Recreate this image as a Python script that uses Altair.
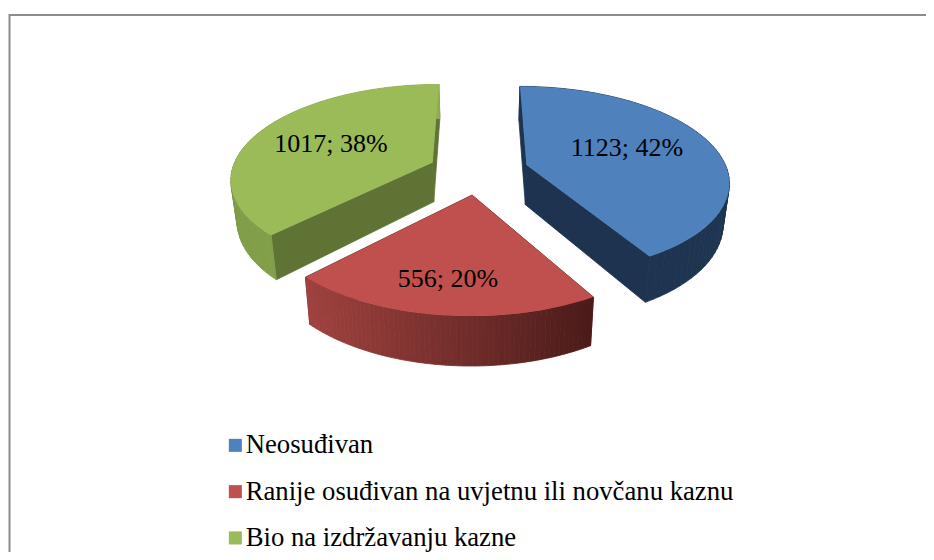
import math
import altair as alt
import pandas as pd

categories = ["Neosuđivan", "Ranije osuđivan na uvjetnu ili novčanu kaznu", "Bio na izdržavanju kazne"]
values = [1123, 556, 1017]
percent = [42, 20, 38]
top_colors = ["#4f81bd", "#c0504d", "#9bbb59"]
cut_colors = ["#1d334f", "#5a2320", "#5f7335"]
side_left = ["#1d334f", "#a0423f", "#7f9c47"]
side_right = ["#1e3551", "#4a1b19", "#8fae50"]
label_px = [(627, 156), (448, 287), (331, 152)]

XC, YC, R, S, K, EXP, DEPTH, SHRINK = 478.5, 171, 201, 93, 0.16, 0.25, 40, 0.975
OX, OY = 8, 8
SERIF = "Liberation Serif, Times New Roman, serif"


def project(u, v):
    w = 1 + K * v
    return XC + R * u / w, YC - S * v / w, w


def top_pt(a, e, bis, radial=1.0):
    u = radial * math.sin(a) + e * math.sin(bis)
    v = radial * math.cos(a) + e * math.cos(bis)
    return project(u, v)


def bottom(p):
    x, y, w = p
    return XC + (x - XC) * SHRINK, y + DEPTH / w


def poly(points, **props):
    ring = [[x - OX, y - OY] for x, y in points]
    ring.append(list(ring[0]))
    return {"type": "Feature", "geometry": {"type": "Polygon", "coordinates": [ring]}, "properties": props}


def mix(c1, c2, t):
    a = [int(c1[i:i + 2], 16) for i in (1, 3, 5)]
    b = [int(c2[i:i + 2], 16) for i in (1, 3, 5)]
    return "#%02x%02x%02x" % tuple(round(p + (q - p) * t) for p, q in zip(a, b))


total = sum(values)
tops, sides = [], []
start = 0.0
for i, val in enumerate(values):
    sweep = 2 * math.pi * val / total
    a0, a1 = start, start + sweep
    bis = (a0 + a1) / 2
    n = 60
    angles = [a0 + sweep * j / n for j in range(n + 1)]
    arc = [top_pt(a, EXP, bis) for a in angles]
    apex = top_pt(0, EXP, bis, 0.0)
    xy = lambda p: (p[0], p[1])
    for corner in (arc[0], arc[-1]):
        sides.append(poly([xy(apex), xy(corner), bottom(corner), bottom(apex)], fill=cut_colors[i]))
    lo = min(arc, key=lambda p: p[0])[0]
    hi = max(arc, key=lambda p: p[0])[0]
    for j in range(n):
        p, q = arc[j], arc[j + 1]
        t = ((p[0] + q[0]) / 2 - lo) / (hi - lo)
        sides.append(poly([xy(p), xy(q), bottom(q), bottom(p)], fill=mix(side_left[i], side_right[i], t)))
    tops.append(poly([xy(apex)] + [xy(p) for p in arc], cat=categories[i]))
    start = a1

proj = dict(type="identity", scale=1, translate=[0, 0])

frame_feats = [
    {"type": "Feature", "geometry": {"type": "LineString", "coordinates": [[9.5 - OX, 560], [9.5 - OX, 15 - OY], [934, 15 - OY]]}, "properties": {}}
]
frame = alt.Chart(alt.Data(values=frame_feats)).mark_geoshape(filled=False, stroke="#8c8c8c", strokeWidth=2).project(**proj)

side_layer = alt.Chart(alt.Data(values=sides)).mark_geoshape(strokeWidth=0.8).encode(
    fill=alt.Fill("properties.fill:N", scale=None),
    stroke=alt.Stroke("properties.fill:N", scale=None),
).project(**proj)

top_layer = alt.Chart(alt.Data(values=tops)).mark_geoshape(strokeWidth=0).encode(
    color=alt.Color(
        "properties.cat:N",
        scale=alt.Scale(domain=categories, range=top_colors),
        sort=categories,
        legend=alt.Legend(
            title=None,
            orient="none",
            legendX=214,
            legendY=424,
            symbolType="square",
            symbolSize=170,
            symbolStrokeWidth=0,
            symbolOpacity=1,
            labelFont=SERIF,
            labelFontSize=26.7,
            labelColor="#000000",
            labelLimit=700,
            labelOffset={"expr": "-3"},
            rowPadding=18.3,
            padding=0,
        ),
    )
).project(**proj)

labels_df = pd.DataFrame({
    "lon": [p[0] - OX for p in label_px],
    "lat": [p[1] - OY for p in label_px],
    "text": [f"{v}; {p}%" for v, p in zip(values, percent)],
})
text_layer = alt.Chart(labels_df).mark_text(
    font=SERIF, fontSize=26, color="#000000", align="center", baseline="alphabetic"
).encode(longitude="lon:Q", latitude="lat:Q", text="text:N").project(**proj)

chart = alt.layer(frame, side_layer, top_layer, text_layer).resolve_scale(
    color="independent", fill="independent", stroke="independent"
).properties(width=918, height=544, padding=0, background="#ffffff").configure_view(stroke=None)

chart.save("out.html", embed_options={"renderer": "svg", "actions": False})
